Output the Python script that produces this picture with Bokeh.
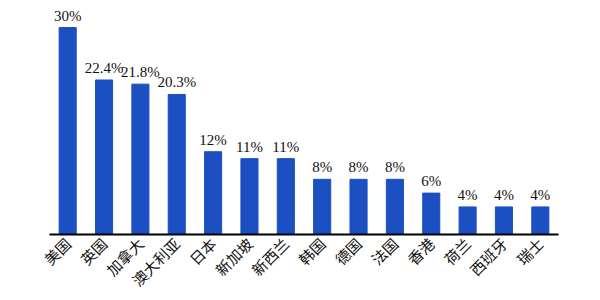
import math
from bokeh.plotting import figure
from bokeh.models import ColumnDataSource
from bokeh.core.properties import value
from bokeh.embed import file_html
from bokeh.resources import INLINE

countries = ["美国", "英国", "加拿大", "澳大利亚", "日本", "新加坡", "新西兰",
             "韩国", "德国", "法国", "香港", "荷兰", "西班牙", "瑞士"]
shares = [30, 22.4, 21.8, 20.3, 12, 11, 11, 8, 8, 8, 6, 4, 4, 4]
labels = ["30%", "22.4%", "21.8%", "20.3%", "12%", "11%", "11%",
          "8%", "8%", "8%", "6%", "4%", "4%", "4%"]

src = ColumnDataSource(dict(x=countries, top=shares, label=labels))

p = figure(x_range=countries, y_range=(0, 33.2), width=600, height=300,
           output_backend="svg", toolbar_location=None,
           min_border_left=49, min_border_right=42, min_border_top=5,
           min_border_bottom=66)
p.background_fill_color = "white"
p.border_fill_color = "white"
p.outline_line_color = None

p.vbar(x="x", top="top", width=0.47, source=src,
       fill_color="#1c4fc2", line_color="#1c4fc2")
p.text(x="x", y="top", text="label", source=src, text_align="center",
       text_baseline="bottom", y_offset=-4, text_font=value("Liberation Serif"),
       text_font_size="15px", text_color="#111111")

p.yaxis.visible = False
p.xgrid.visible = False
p.ygrid.visible = False
p.xaxis.axis_line_color = "black"
p.xaxis.axis_line_width = 2
p.xaxis.major_tick_line_color = None
p.xaxis.minor_tick_line_color = None
p.xaxis.major_label_orientation = math.pi / 4
p.xaxis.major_label_text_font = "Noto Sans CJK SC"
p.xaxis.major_label_text_font_size = "15px"
p.xaxis.major_label_text_color = "#111111"
p.xaxis.major_label_standoff = 0

open("out.html", "w").write(file_html(p, INLINE))
